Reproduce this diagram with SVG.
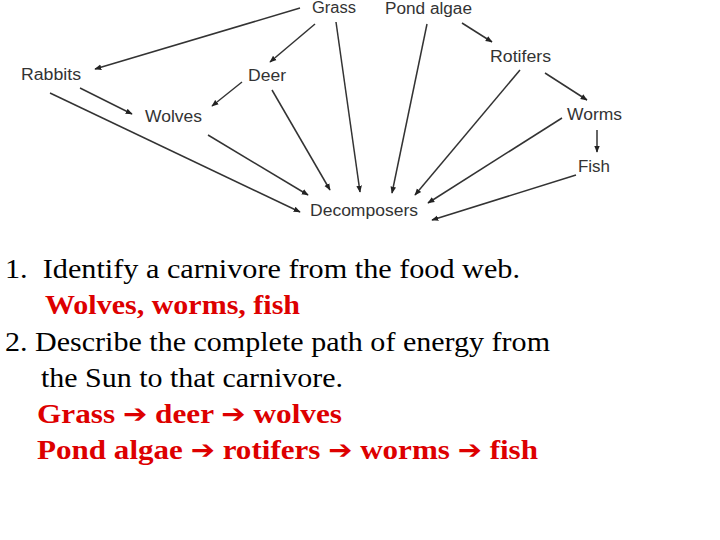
<svg xmlns="http://www.w3.org/2000/svg" width="720" height="540" viewBox="0 0 720 540">
<defs>
<marker id="ah" viewBox="0 0 10 10" refX="9" refY="5" markerWidth="7" markerHeight="7" orient="auto" markerUnits="userSpaceOnUse"><path d="M0,1 L10,5 L0,9 z" fill="#222"/></marker>
<style>
.n{font-family:"Liberation Sans",Arial,sans-serif;font-size:16px;fill:#333}
.c line{stroke:#333;stroke-width:1.5;marker-end:url(#ah)}
.t{font-family:"Liberation Serif","Times New Roman",serif;font-size:28px;fill:#000}
.r{font-family:"Liberation Serif","Times New Roman",serif;font-size:28px;font-weight:bold;fill:#dd0000}
.a{font-family:"DejaVu Sans",sans-serif;font-size:26px}
</style>
</defs>
<rect width="720" height="540" fill="#fff"/>
<g class="c" id="connectors">
<line x1="300" y1="8" x2="95" y2="69"/>
<line x1="315" y1="24" x2="270" y2="62"/>
<line x1="336" y1="22" x2="360" y2="192"/>
<line x1="80" y1="88" x2="132" y2="114"/>
<line x1="242" y1="82" x2="212" y2="106"/>
<line x1="50" y1="93" x2="300" y2="212"/>
<line x1="208" y1="135" x2="308" y2="195"/>
<line x1="272" y1="90" x2="330" y2="190"/>
<line x1="427" y1="24" x2="392" y2="193"/>
<line x1="462" y1="23" x2="492" y2="42"/>
<line x1="520" y1="70" x2="415" y2="195"/>
<line x1="545" y1="73" x2="587" y2="100"/>
<line x1="562" y1="118" x2="428" y2="203"/>
<line x1="597" y1="130" x2="597" y2="152"/>
<line x1="576" y1="175" x2="432" y2="220"/>
</g>
<g id="grass"><text class="n" x="312" y="13" textLength="44" lengthAdjust="spacingAndGlyphs">Grass</text></g>
<g id="pondalgae"><text class="n" x="385" y="14" textLength="87" lengthAdjust="spacingAndGlyphs">Pond algae</text></g>
<g id="rabbits"><text class="n" x="21" y="80" textLength="60" lengthAdjust="spacingAndGlyphs">Rabbits</text></g>
<g id="deer"><text class="n" x="248" y="81" textLength="38" lengthAdjust="spacingAndGlyphs">Deer</text></g>
<g id="wolves"><text class="n" x="145" y="122" textLength="57" lengthAdjust="spacingAndGlyphs">Wolves</text></g>
<g id="rotifers"><text class="n" x="490" y="62" textLength="61" lengthAdjust="spacingAndGlyphs">Rotifers</text></g>
<g id="worms"><text class="n" x="567" y="120" textLength="55" lengthAdjust="spacingAndGlyphs">Worms</text></g>
<g id="fish"><text class="n" x="578" y="172" textLength="32" lengthAdjust="spacingAndGlyphs">Fish</text></g>
<g id="decomposers"><text class="n" x="310" y="216" textLength="108" lengthAdjust="spacingAndGlyphs">Decomposers</text></g>
<g id="questions">
<text class="t" x="5" y="278" xml:space="preserve" textLength="515" lengthAdjust="spacingAndGlyphs">1.  Identify a carnivore from the food web.</text>
<text class="r" x="45" y="314" textLength="255" lengthAdjust="spacingAndGlyphs">Wolves, worms, fish</text>
<text class="t" x="5" y="351" textLength="545" lengthAdjust="spacingAndGlyphs">2. Describe the complete path of energy from</text>
<text class="t" x="41" y="387" textLength="302" lengthAdjust="spacingAndGlyphs">the Sun to that carnivore.</text>
<text class="r" x="37" y="423" textLength="305" lengthAdjust="spacingAndGlyphs">Grass <tspan class="a">➔</tspan> deer <tspan class="a">➔</tspan> wolves</text>
<text class="r" x="37" y="459" textLength="501" lengthAdjust="spacingAndGlyphs">Pond algae <tspan class="a">➔</tspan> rotifers <tspan class="a">➔</tspan> worms <tspan class="a">➔</tspan> fish</text>
</g>
</svg>
